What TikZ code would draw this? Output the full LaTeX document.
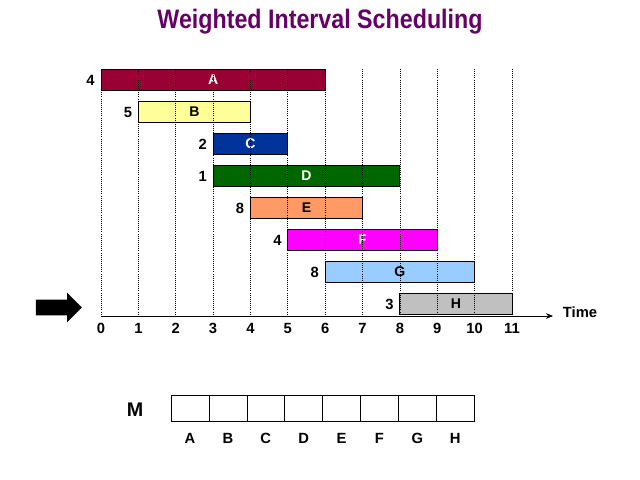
\documentclass[tikz,border=0pt]{standalone}
\usepackage{fontspec}
\setmainfont{Liberation Sans}
\usetikzlibrary{shapes.arrows,arrows.meta}

\definecolor{titlepurple}{HTML}{660066}
\definecolor{barA}{HTML}{990033}
\definecolor{barB}{HTML}{FFFF99}
\definecolor{barC}{HTML}{003399}
\definecolor{barD}{HTML}{006600}
\definecolor{barE}{HTML}{FF9966}
\definecolor{barF}{HTML}{FF00FF}
\definecolor{barG}{HTML}{99CCFF}
\definecolor{barH}{HTML}{C0C0C0}

\begin{document}
\begin{tikzpicture}[x=0.025cm, y=-0.025cm,
    title/.style={
        text=titlepurple,
        font=\fontsize{19}{22}\bfseries\selectfont,
        xscale=0.87, transform shape
    },
    bar/.style={
        draw,
        line width=0.6pt,
        minimum height=0.525cm,
        inner sep=0pt,
        font=\fontsize{10}{12}\bfseries\selectfont
    },
    weight/.style={
        anchor=east,
        inner sep=1pt,
        font=\fontsize{10.5}{12}\bfseries\selectfont
    },
    tick/.style={
        font=\fontsize{10.5}{12}\bfseries\selectfont
    },
    cell/.style={
        draw,
        minimum width=0.947cm,
        minimum height=0.65cm,
        inner sep=0pt
    },
    gridline/.style={
        densely dotted,
        line width=0.5pt
    }
]
\useasboundingbox (0,0) rectangle (640,480);

%------------------------------------------------
% Parameters
%------------------------------------------------
\def\xo{101}
\def\xstep{37.36}
\def\yaxis{316}

%------------------------------------------------
% Title
%------------------------------------------------
\node[title] (title) at (320,22) {Weighted Interval Scheduling};

%------------------------------------------------
% Intervals
%------------------------------------------------
\foreach \n/\ts/\te/\wt/\col/\txt [count=\k from 0] in
    {A/0/6/4/barA/white, B/1/4/5/barB/black, C/3/5/2/barC/white,
     D/3/8/1/barD/white, E/4/7/8/barE/black, F/5/9/4/barF/white,
     G/6/10/8/barG/black, H/8/11/3/barH/black} {
    \pgfmathsetmacro\cx{\xo+(\ts+\te)/2*\xstep}
    \pgfmathsetmacro\barw{(\te-\ts)*\xstep*0.025}
    \pgfmathsetmacro\cy{80+\k*32}
    \node[bar, fill=\col, text=\txt, minimum width=\barw cm] (\n) at (\cx,\cy) {\n};
    \node[weight] (w\n) at ([xshift=-3pt]\n.west) {\wt};
}

%------------------------------------------------
% Time axis
%------------------------------------------------
\foreach \t in {0,...,11} {
    \coordinate (t\t) at (\xo+\t*\xstep,\yaxis);
    \coordinate (top\t) at (\xo+\t*\xstep,69);
    \draw[gridline] (top\t) -- (t\t);
    \node[tick] (n\t) at (\xo+\t*\xstep,328) {\t};
}
\coordinate (tend) at (553,\yaxis);
\draw[-{Stealth[length=5pt,width=4pt]}] (t0) -- (tend);
\node[tick] (time) at (580,312) {Time};

% pointer
\node[single arrow, fill=black, inner xsep=0pt, inner ysep=0.1875cm,
      minimum height=1.15cm,
      single arrow head extend=0.175cm] (pointer) at (55,307.5) {};

%------------------------------------------------
% Memo table M
%------------------------------------------------
\node[font=\fontsize{14}{16}\bfseries\selectfont] (M) at (135,410) {M};
\foreach \c [count=\i from 0] in {A,B,C,D,E,F,G,H} {
    \node[cell] (m\c) at (190+\i*37.875,408) {};
    \node[tick] (l\c) at (190+\i*37.875,438) {\c};
}

\end{tikzpicture}
\end{document}
